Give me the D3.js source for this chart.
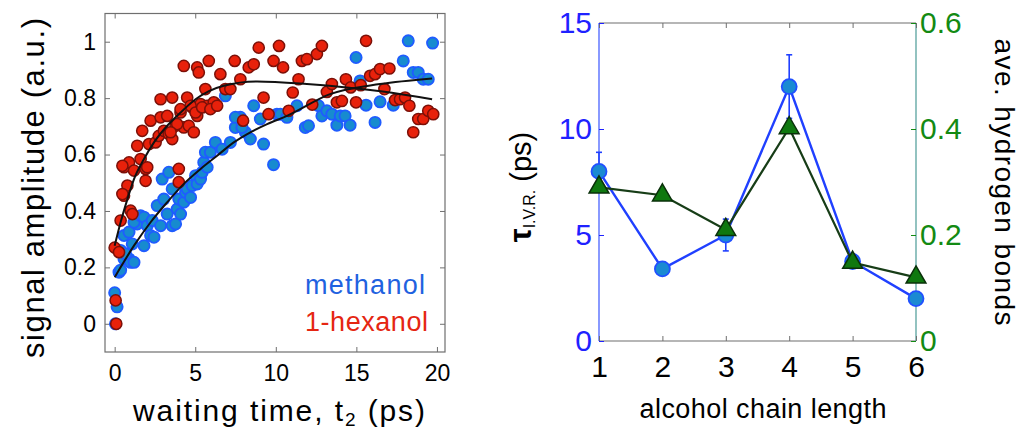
<!DOCTYPE html>
<html>
<head>
<meta charset="utf-8">
<script src="https://cdn.jsdelivr.net/npm/d3@7"></script>
<style>
  body { margin: 0; background: #fff; }
  text { font-family: "Liberation Sans", Arial, sans-serif; }
</style>
</head>
<body>
<script>
// two panels: signal amplitude vs waiting time, and tau / h-bonds vs chain length

// ---- data ----
// methanol [t2 (ps), amplitude]
const methanol = [
  [0,0.11],[0.15,0.06],[0.05,0.0],[0.27,0.183],[0.37,0.19],[0.37,0.26],[0.58,0.23],[0.89,0.23],
  [0.99,0.218],[1.2,0.218],[0.68,0.248],[0.58,0.313],[1.09,0.283],[0.89,0.325],[1.4,0.354],[1.2,0.36],
  [1.61,0.383],[1.82,0.378],[2.02,0.348],[1.82,0.277],[2.23,0.313],[2.44,0.307],[2.33,0.366],[2.64,0.419],
  [2.85,0.348],[3.05,0.442],[3.26,0.389],[2.95,0.513],[3.36,0.537],[3.57,0.478],[3.57,0.348],[3.78,0.354],
  [3.88,0.407],[4.09,0.389],[3.98,0.442],[4.29,0.431],[4.4,0.466],[4.5,0.478],[4.71,0.448],[4.81,0.49],
  [5.02,0.525],[5.12,0.496],[5.33,0.513],[5.43,0.537],[5.53,0.572],[5.74,0.555],[5.63,0.608],[5.94,0.608],
  [6.25,0.643],[6.67,0.619],[7.18,0.643],[7.8,0.732],[7.49,0.696],[8.11,0.679],[8.42,0.655],[8.63,0.773],
  [9.24,0.637],[9.86,0.564],[9.04,0.726],[6.87,0.808],[7.49,0.732],[7.9,0.696],[10.07,0.743],
  [10.28,0.743],[10.69,0.732],[11.31,0.773],[11.83,0.696],[12.03,0.702],[12.65,0.773],[12.86,0.737],
  [13.17,0.755],[13.48,0.743],[13.79,0.704],[14.0,0.737],[14.3,0.737],[14.61,0.704],[14.98,0.944],
  [15.23,0.861],[15.6,0.775],[16.16,0.714],[16.47,0.787],[17.29,0.775],[17.91,0.932],[18.22,1.003],
  [18.53,0.891],[18.84,0.891],[19.15,0.867],[19.46,0.867],[19.73,0.995]
]
// 1-hexanol [t2 (ps), amplitude]
const hexanol = [
  [0,0.27],[0.27,0.254],[0.06,0.083],[0.1,0.0],[0.37,0.366],[0.99,0.401],[1.1,0.389],[0.58,0.454],
  [0.79,0.49],[0.48,0.46],[0.58,0.555],[0.89,0.572],[0.48,0.56],[1.2,0.543],[1.61,0.584],[1.92,0.549],
  [1.92,0.507],[2.02,0.555],[1.4,0.631],[1.71,0.684],[2.23,0.72],[2.13,0.637],[2.54,0.643],[2.74,0.666],
  [2.85,0.732],[3.26,0.737],[3.05,0.684],[3.36,0.673],[3.57,0.655],[4.09,0.749],[3.78,0.702],[4.29,0.696],
  [4.6,0.702],[4.91,0.679],[4.81,0.767],[5.12,0.737],[5.33,0.779],[5.74,0.773],[6.25,0.779],[3.98,0.549],
  [3.98,0.502],[2.85,0.796],[3.57,0.802],[4.29,0.914],[5.12,0.909],[5.22,0.891],[5.84,0.932],[6.56,0.885],
  [5.63,0.832],[6.15,0.785],[4.5,0.802],[4.71,0.773],[4.09,0.761],[5.02,0.749],[5.43,0.767],[5.94,0.761],
  [6.36,0.773],[3.88,0.708],[3.47,0.679],[6.87,0.832],[7.18,0.832],[7.45,0.932],[7.8,0.867],[8.32,0.909],
  [8.63,0.92],[8.94,0.979],[9.24,0.802],[9.55,0.743],[9.86,0.932],[7.97,0.72],
  [10.2,0.985],[10.45,0.909],[10.8,0.755],[11.05,0.82],[11.41,0.867],[11.62,0.932],[11.93,0.938],
  [12.26,0.777],[12.55,0.956],[12.86,0.985],[13.17,0.822],[13.48,0.85],[13.79,0.785],[14.1,0.79],
  [14.35,0.867],[14.65,0.838],[14.98,0.785],[15.27,0.846],[15.6,1.003],[15.85,0.879],[16.16,0.885],
  [16.47,0.903],[17.05,0.905],[16.74,0.832],[17.4,0.793],[17.71,0.796],[18.02,0.802],[18.29,0.773],
  [18.53,0.679],[18.84,0.726],[19.15,0.726],[19.46,0.755],[19.77,0.743]
]
// fit curves
const methFitT = [0, 1.2, 2.23, 3.26, 4.29, 5.33, 6.36, 7.39, 8.42, 9.46, 10.69, 13.37, 16.47, 19.7]
const methFitA = [0.165, 0.277, 0.36, 0.431, 0.496, 0.549, 0.596, 0.643, 0.679, 0.708, 0.737, 0.814, 0.85, 0.87]
const hexFitT = [0, 0.37, 0.79, 1.2, 1.82, 2.44, 3.26, 4.09, 5.02, 6.77, 8.84, 11.93, 14.4, 17.1, 19.7]
const hexFitA = [0.277, 0.36, 0.442, 0.513, 0.584, 0.643, 0.702, 0.749, 0.796, 0.844, 0.859, 0.85, 0.838, 0.82, 0.796]

const timeTicks = [0, 5, 10, 15, 20]
const ampTicks = [0, 0.2, 0.4, 0.6, 0.8, 1]

// right panel
const chainLength = [1, 2, 3, 4, 5, 6]
const tauIVR = [8.0, 3.4, 5.0, 12.0, 3.75, 2.0]
const tauErr = [0.9, 0.3, 0.75, 1.5, 0.3, 0.25]
const hBonds = [0.29, 0.275, 0.21, 0.402, 0.148, 0.12]
const tauTicks = [0, 5, 10, 15]
const hbTicks = [0, 0.2, 0.4, 0.6]

// ---- svg ----
const svg = d3.select("body").append("svg")
    .attr("width", 1019)
    .attr("height", 436)

svg.append("rect").attr("width", 1019).attr("height", 436).attr("fill", "#fff")

// ================= left panel =================
const P1 = { LEFT: 105, RIGHT: 445, TOP: 13.5, BOTTOM: 352 }

const x1 = d3.scaleLinear().domain([-0.6, 20.5]).range([P1.LEFT, P1.RIGHT])
const y1 = d3.scaleLinear().domain([-0.1, 1.1]).range([P1.BOTTOM, P1.TOP])

const frameColor = "#6f6f6f"

svg.append("rect")
    .attr("x", P1.LEFT).attr("y", P1.TOP)
    .attr("width", P1.RIGHT - P1.LEFT).attr("height", P1.BOTTOM - P1.TOP)
    .attr("fill", "none").attr("stroke", frameColor).attr("stroke-width", 1.2)

function styleAxis(sel, color, size) {
  sel.select(".domain").remove()
  sel.selectAll(".tick line").attr("stroke", color)
  sel.selectAll(".tick text").attr("fill", color === frameColor ? "#000" : color)
    .attr("font-size", size)
}

svg.append("g").attr("transform", `translate(0,${P1.BOTTOM})`)
    .call(d3.axisBottom(x1).tickValues(timeTicks).tickSizeInner(-5).tickSizeOuter(0).tickPadding(13))
    .call(g => styleAxis(g, frameColor, "23px"))
svg.append("g").attr("transform", `translate(0,${P1.TOP})`)
    .call(d3.axisTop(x1).tickValues(timeTicks).tickSizeInner(-5).tickSizeOuter(0).tickFormat(""))
    .call(g => styleAxis(g, frameColor, "23px"))
svg.append("g").attr("transform", `translate(${P1.LEFT},0)`)
    .call(d3.axisLeft(y1).tickValues(ampTicks).tickSizeInner(-5).tickSizeOuter(0).tickPadding(9).tickFormat(d3.format("~g")))
    .call(g => styleAxis(g, frameColor, "23px"))
svg.append("g").attr("transform", `translate(${P1.RIGHT},0)`)
    .call(d3.axisRight(y1).tickValues(ampTicks).tickSizeInner(-5).tickSizeOuter(0).tickFormat(""))
    .call(g => styleAxis(g, frameColor, "23px"))

// points
svg.append("g").selectAll("circle")
  .data(methanol)
  .join("circle")
    .attr("cx", d => x1(d[0]))
    .attr("cy", d => y1(d[1]))
    .attr("r", 5.6)
    .attr("fill", "#178bcf")
    .attr("stroke", "#1f5cff")
    .attr("stroke-width", 1.8)

svg.append("g").selectAll("circle")
  .data(hexanol)
  .join("circle")
    .attr("cx", d => x1(d[0]))
    .attr("cy", d => y1(d[1]))
    .attr("r", 5.6)
    .attr("fill", "#e8210b")
    .attr("stroke", "#7c1008")
    .attr("stroke-width", 1.5)

// fits
const fitLine = d3.line()
    .x(d => x1(d[0]))
    .y(d => y1(d[1]))
    .curve(d3.curveMonotoneX)

svg.append("path")
    .attr("d", fitLine(methFitT.map((t, i) => [t, methFitA[i]])))
    .attr("fill", "none").attr("stroke", "#111").attr("stroke-width", 2)
svg.append("path")
    .attr("d", fitLine(hexFitT.map((t, i) => [t, hexFitA[i]])))
    .attr("fill", "none").attr("stroke", "#111").attr("stroke-width", 2)

// legend
svg.append("text")
    .attr("x", 305).attr("y", 294)
    .attr("textLength", 120)
    .attr("font-family", "Lato, sans-serif")
    .attr("font-size", "27px")
    .attr("fill", "#1f62e0")
    .text("methanol")
svg.append("text")
    .attr("x", 305).attr("y", 331)
    .attr("textLength", 123)
    .attr("font-family", "Lato, sans-serif")
    .attr("font-size", "27px")
    .attr("fill", "#e52612")
    .text("1-hexanol")

// axis labels
svg.append("text")
    .attr("transform", "translate(44,188) rotate(-90)")
    .attr("text-anchor", "middle")
    .attr("font-size", "31px")
    .attr("textLength", 340)
    .text("signal amplitude (a.u.)")

const xl = svg.append("text")
    .attr("x", 279).attr("y", 421)
    .attr("text-anchor", "middle")
    .attr("font-size", "30px")
    .attr("textLength", 292)
xl.append("tspan").text("waiting time, t")
xl.append("tspan").attr("font-size", "19px").attr("dy", 5).text("2")
xl.append("tspan").attr("dy", -5).text(" (ps)")

// ================= right panel =================
const P2 = { LEFT: 599, RIGHT: 916, TOP: 23, BOTTOM: 341 }
const blue = "#1f22ff"
const green = "#138a13"

const x2 = d3.scaleLinear().domain([1, 6]).range([P2.LEFT, P2.RIGHT])
const y2 = d3.scaleLinear().domain([0, 15]).range([P2.BOTTOM, P2.TOP])
const y3 = d3.scaleLinear().domain([0, 0.6]).range([P2.BOTTOM, P2.TOP])

// frame lines
svg.append("line").attr("x1", P2.LEFT).attr("x2", P2.RIGHT).attr("y1", P2.TOP).attr("y2", P2.TOP)
    .attr("stroke", frameColor).attr("stroke-width", 1.2)
svg.append("line").attr("x1", P2.LEFT).attr("x2", P2.RIGHT).attr("y1", P2.BOTTOM).attr("y2", P2.BOTTOM)
    .attr("stroke", frameColor).attr("stroke-width", 1.2)
svg.append("line").attr("x1", P2.LEFT).attr("x2", P2.LEFT).attr("y1", P2.TOP).attr("y2", P2.BOTTOM)
    .attr("stroke", "#3a56ff").attr("stroke-width", 1.2)
svg.append("line").attr("x1", P2.RIGHT).attr("x2", P2.RIGHT).attr("y1", P2.TOP).attr("y2", P2.BOTTOM)
    .attr("stroke", "#4a9a96").attr("stroke-width", 1.2)

svg.append("g").attr("transform", `translate(0,${P2.BOTTOM})`)
    .call(d3.axisBottom(x2).tickValues(chainLength).tickSizeInner(-5).tickSizeOuter(0).tickPadding(15).tickFormat(d3.format("d")))
    .call(g => styleAxis(g, frameColor, "30px"))
svg.append("g").attr("transform", `translate(0,${P2.TOP})`)
    .call(d3.axisTop(x2).tickValues(chainLength).tickSizeInner(-5).tickSizeOuter(0).tickFormat(""))
    .call(g => styleAxis(g, frameColor, "30px"))
svg.append("g").attr("transform", `translate(${P2.LEFT},0)`)
    .call(d3.axisLeft(y2).tickValues(tauTicks).tickSizeInner(-5).tickSizeOuter(0).tickPadding(7))
    .call(g => styleAxis(g, blue, "30px"))
svg.append("g").attr("transform", `translate(${P2.RIGHT},0)`)
    .call(d3.axisRight(y3).tickValues(hbTicks).tickSizeInner(-5).tickSizeOuter(0).tickPadding(4).tickFormat(d3.format("~g")))
    .call(g => styleAxis(g, green, "30px"))

// tau series
svg.append("path")
    .datum(chainLength.map((c, i) => [c, tauIVR[i]]))
    .attr("d", d3.line().x(d => x2(d[0])).y(d => y2(d[1])))
    .attr("fill", "none").attr("stroke", "#2040ff").attr("stroke-width", 2.4)

const err = svg.append("g").attr("stroke", "#2040ff").attr("stroke-width", 1.6)
chainLength.forEach((c, i) => {
  const cx = x2(c)
  const top = y2(tauIVR[i] + tauErr[i])
  const bot = y2(tauIVR[i] - tauErr[i])
  err.append("line").attr("x1", cx).attr("x2", cx).attr("y1", top).attr("y2", bot)
  err.append("line").attr("x1", cx - 3).attr("x2", cx + 3).attr("y1", top).attr("y2", top)
  err.append("line").attr("x1", cx - 3).attr("x2", cx + 3).attr("y1", bot).attr("y2", bot)
})

svg.append("g").selectAll("circle")
  .data(chainLength)
  .join("circle")
    .attr("cx", d => x2(d))
    .attr("cy", (d, i) => y2(tauIVR[i]))
    .attr("r", 7.5)
    .attr("fill", "#1a8ad2")
    .attr("stroke", "#2050ff")
    .attr("stroke-width", 1.8)

// h-bond series
svg.append("path")
    .datum(chainLength.map((c, i) => [c, hBonds[i]]))
    .attr("d", d3.line().x(d => x2(d[0])).y(d => y3(d[1])))
    .attr("fill", "none").attr("stroke", "#173d17").attr("stroke-width", 2.2)

svg.append("g").selectAll("path")
  .data(chainLength)
  .join("path")
    .attr("transform", (d, i) => `translate(${x2(d)},${y3(hBonds[i])})`)
    .attr("d", d3.symbol(d3.symbolTriangle, 170))
    .attr("fill", "#0f780f")
    .attr("stroke", "#0a300a")
    .attr("stroke-width", 1.5)

// labels
svg.append("text")
    .attr("x", 763).attr("y", 418)
    .attr("text-anchor", "middle")
    .attr("font-family", "Lato, sans-serif")
    .attr("font-size", "27px")
    .attr("textLength", 247)
    .text("alcohol chain length")

svg.append("text")
    .attr("transform", "translate(995,182) rotate(90)")
    .attr("text-anchor", "middle")
    .attr("font-size", "28px")
    .attr("textLength", 287)
    .text("ave. hydrogen bonds")

const tl = svg.append("text")
    .attr("transform", "translate(531,187) rotate(-90)")
    .attr("text-anchor", "middle")
    .attr("font-size", "29px")
tl.append("tspan").attr("font-weight", "bold").attr("font-size", "31px").text("τ")
tl.append("tspan").attr("font-size", "16px").attr("dy", 4).text("I.V.R.")
tl.append("tspan").attr("dy", -4).text(" (ps)")
</script>
</body>
</html>
